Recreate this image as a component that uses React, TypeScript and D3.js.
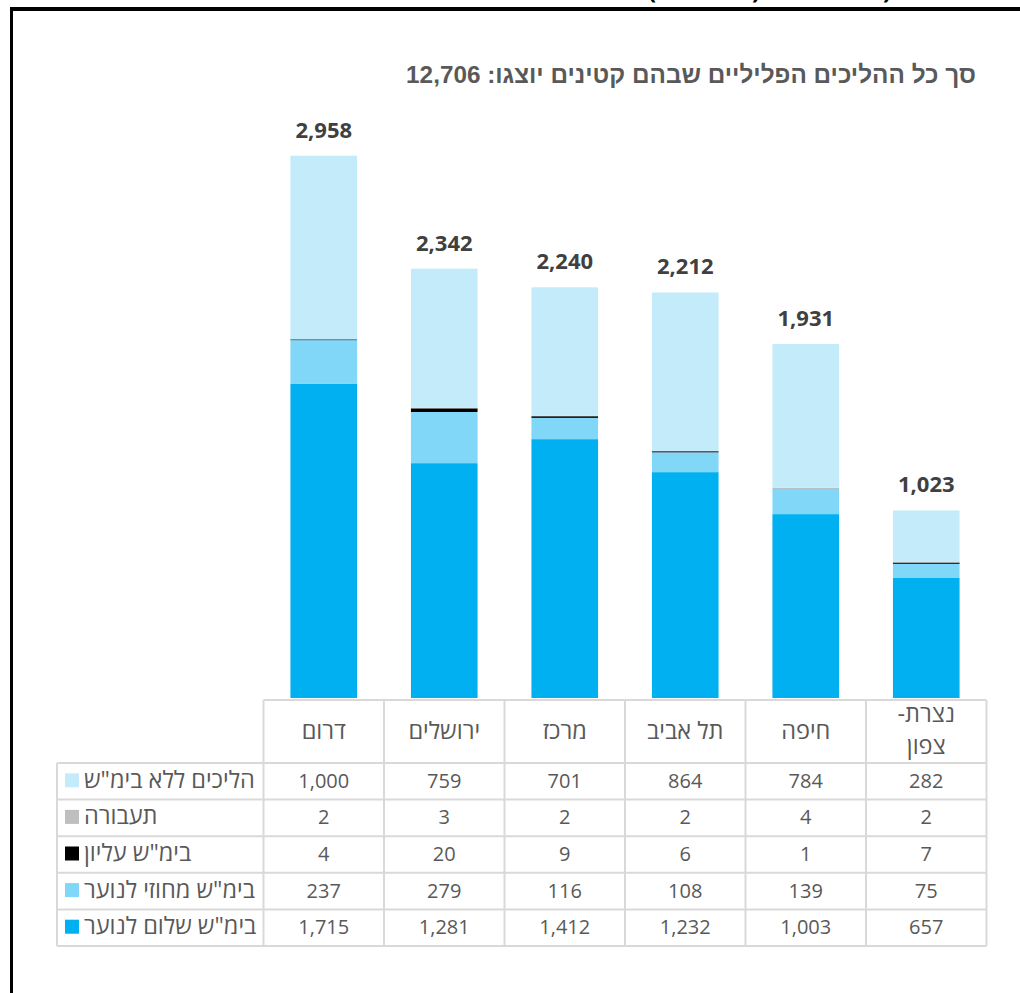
import React from "react";
import * as d3 from "d3";

const categories = ["דרום", "ירושלים", "מרכז", "תל אביב", "חיפה", "נצרת-צפון"];
const seriesNames = ['בימ"ש שלום לנוער', 'בימ"ש מחוזי לנוער', 'בימ"ש עליון', "תעבורה", 'הליכים ללא בימ"ש'];
const shalom = [1715, 1281, 1412, 1232, 1003, 657];
const mechozi = [237, 279, 116, 108, 139, 75];
const elyon = [4, 20, 9, 6, 1, 7];
const taavura = [2, 3, 2, 2, 4, 2];
const lelo = [1000, 759, 701, 864, 784, 282];
const seriesValues = [shalom, mechozi, elyon, taavura, lelo];
const colors = ["#00B0F0", "#80D7F8", "#000000", "#BFBFBF", "#C4EBFA"];
const titleText = "סך כל ההליכים הפליליים שבהם קטינים יוצגו: 12,706";

const W = 1020;
const H = 993;
const FONT = "'Open Sans', 'Liberation Sans', sans-serif";
const GRID = "#D9D9D9";
const TXT = "#595959";
const HEB_SIZE = 23.5;

export default function App() {
  const rows = categories.map((c, i) => {
    const r: any = { cat: c };
    seriesNames.forEach((s, k) => (r[s] = seriesValues[k][i]));
    return r;
  });
  const stacked = d3.stack<any>().keys(seriesNames)(rows);
  const totals = categories.map((_, i) => d3.sum(seriesValues, (s) => s[i]));

  const tableLeft = 263.5;
  const tableRight = 986.5;
  const legendLeft = 57;
  const x = d3
    .scaleBand<string>()
    .domain(categories)
    .range([tableLeft, tableRight])
    .paddingInner(0.447)
    .paddingOuter(0.2235);
  const y = d3.scaleLinear().domain([0, 3000]).range([698, 148]);
  const step = x.step();

  const headerTop = 700;
  const rowTops = [763, 799.6, 836.2, 872.8, 909.4, 946];
  const tableRows = [...seriesNames].reverse();
  const tableVals = [...seriesValues].reverse();
  const tableColors = [...colors].reverse();
  const fmt = d3.format(",");

  return (
    <svg width={W} height={H} style={{ position: "absolute", left: 0, top: 0, background: "#fff" }}>
      <rect x={0} y={0} width={W} height={H} fill="#fff" />
      {/* text cut off above the frame, as in the reference */}
      <g fontFamily={FONT} fontWeight="bold" fontSize={24} fill="#000">
        <text x={652} y={-1} textAnchor="middle">(</text>
        <text x={756} y={-1} textAnchor="middle">)</text>
        <text x={887} y={-1} textAnchor="middle">)</text>
      </g>
      {/* frame */}
      <rect x={10} y={7} width={W - 10} height={4} fill="#000" />
      <rect x={10} y={7} width={3} height={H - 7} fill="#000" />

      {/* title */}
      <text
        x={976}
        y={82.5}
        direction="rtl"
        textAnchor="start"
        fontFamily="'Liberation Sans', Arial, sans-serif"
        fontWeight="bold"
        fontSize={24.3}
        fill={TXT}
      >
        {titleText}
      </text>

      {/* bars */}
      {stacked.map((layer, k) => (
        <g key={k} fill={colors[k]}>
          {layer.map((d, i) => (
            <rect
              key={i}
              x={x(categories[i])!}
              width={x.bandwidth()}
              y={y(d[1])}
              height={Math.max(0, y(d[0]) - y(d[1]))}
            />
          ))}
        </g>
      ))}

      {/* totals */}
      {totals.map((t, i) => (
        <text
          key={i}
          x={x(categories[i])! + x.bandwidth() / 2}
          y={y(t) - 18}
          textAnchor="middle"
          fontFamily={FONT}
          fontWeight="bold"
          fontSize={22}
          fill="#404040"
        >
          {fmt(t)}
        </text>
      ))}

      {/* table grid */}
      <g stroke={GRID} strokeWidth={2} fill="none">
        <line x1={tableLeft} x2={tableRight} y1={headerTop} y2={headerTop} />
        {rowTops.map((ry, j) => (
          <line key={j} x1={legendLeft} x2={tableRight} y1={ry} y2={ry} />
        ))}
        <line x1={legendLeft} x2={legendLeft} y1={rowTops[0]} y2={rowTops[rowTops.length - 1]} />
        {d3.range(categories.length + 1).map((i) => (
          <line
            key={i}
            x1={tableLeft + i * step}
            x2={tableLeft + i * step}
            y1={headerTop}
            y2={rowTops[rowTops.length - 1]}
          />
        ))}
      </g>

      {/* header */}
      <g fontFamily={FONT} fontSize={HEB_SIZE} fill={TXT} textAnchor="middle">
        {categories.map((c, i) => {
          const cx = tableLeft + (i + 0.5) * step;
          const parts = c.includes("-") ? [c.split("-")[0] + "-", c.split("-")[1]] : [c];
          if (parts.length === 1) {
            return (
              <text key={i} x={cx} y={739} direction="rtl">
                {c}
              </text>
            );
          }
          return (
            <g key={i}>
              <text x={cx} y={722} direction="rtl">{parts[0]}</text>
              <text x={cx} y={753.5} direction="rtl">{parts[1]}</text>
            </g>
          );
        })}
      </g>

      {/* rows */}
      {tableRows.map((name, j) => {
        const cy = (rowTops[j] + rowTops[j + 1]) / 2;
        return (
          <g key={j} fontFamily={FONT} fontSize={20} fill={TXT}>
            <rect x={65} y={cy - 8} width={14} height={14} fill={tableColors[j]} />
            <text x={84} y={cy + 6.5} direction="rtl" textAnchor="end" fontSize={HEB_SIZE}>
              {name}
            </text>
            {tableVals[j].map((v, i) => (
              <text key={i} x={tableLeft + (i + 0.5) * step} y={cy + 6.5} textAnchor="middle">
                {fmt(v)}
              </text>
            ))}
          </g>
        );
      })}
    </svg>
  );
}
